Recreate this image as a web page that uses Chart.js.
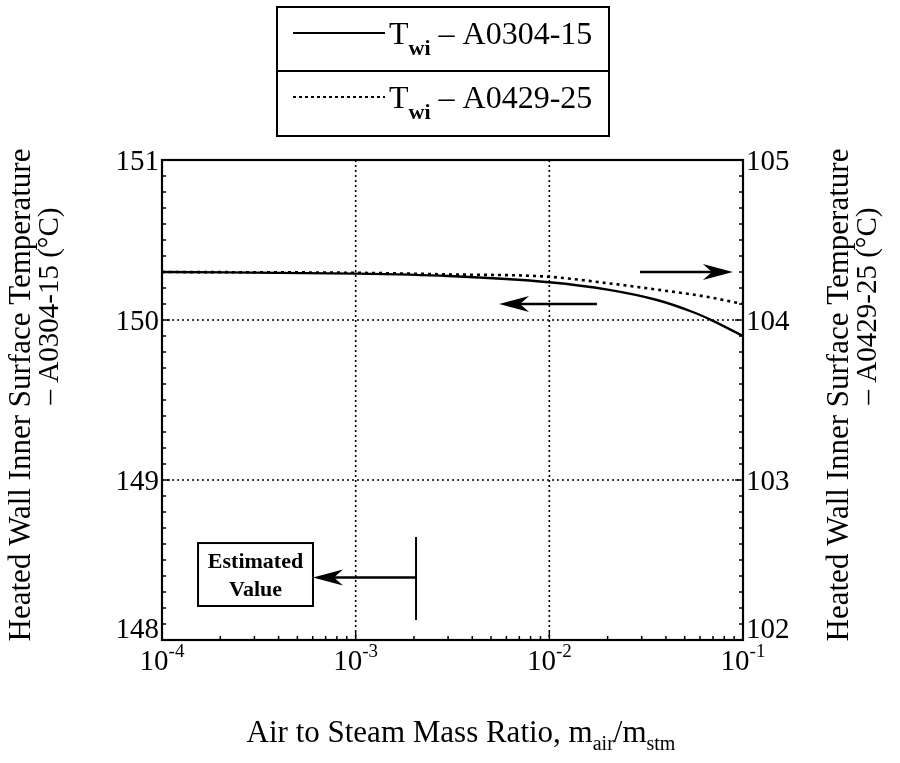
<!DOCTYPE html>
<html><head><meta charset="utf-8">
<script src="https://cdn.jsdelivr.net/npm/chart.js@4.4.1/dist/chart.umd.min.js"></script>
<style>html,body{margin:0;padding:0;background:#fff}canvas{display:block}</style>
</head><body>
<canvas id="c" width="900" height="763"></canvas>
<script>
// ---- data ----
const xSolid  = [1e-4, 1e-3, 3e-3, 1e-2, 2e-2, 3.6e-2, 5.5e-2, 7e-2, 1e-1];
const ySolid  = [150.30, 150.29, 150.275, 150.236, 150.19, 150.125, 150.05, 149.995, 149.90];
const xDotted = [1e-4, 1e-3, 3e-3, 1e-2, 2e-2, 3.6e-2, 6.5e-2, 1e-1];
const yDotted = [104.30, 104.295, 104.285, 104.27, 104.23, 104.19, 104.145, 104.10];
const seriesNames = ['A0304-15', 'A0429-25'];
const xTickValues = [1e-4, 1e-3, 1e-2, 1e-1];
const xTickExponents = ['-4', '-3', '-2', '-1'];
const yLeftTicks = [148, 149, 150, 151];
const yRightTicks = [102, 103, 104, 105];

const SERIF = '"Liberation Serif", "Times New Roman", serif';
function fnt(px, bold) { return (bold ? 'bold ' : '') + px + 'px ' + SERIF; }
function seg(ctx, x1, y1, x2, y2) { ctx.beginPath(); ctx.moveTo(x1, y1); ctx.lineTo(x2, y2); ctx.stroke(); }
function arrow(ctx, xTail, xTip, y) {
  const dir = xTip > xTail ? 1 : -1, L = 30, W = 8, N = 9;
  ctx.lineWidth = 2.5; ctx.setLineDash([]);
  seg(ctx, xTail, y, xTip - dir * (L - N), y);
  ctx.beginPath();
  ctx.moveTo(xTip, y);
  ctx.lineTo(xTip - dir * L, y - W);
  ctx.lineTo(xTip - dir * (L - N), y);
  ctx.lineTo(xTip - dir * L, y + W);
  ctx.closePath(); ctx.fill();
}
function richText(ctx, parts, x, y, align) {
  let total = 0;
  parts.forEach(p => { ctx.font = fnt(p[1], p[2]); total += ctx.measureText(p[0]).width; });
  let cx = align === 'center' ? x - total / 2 : x;
  ctx.textAlign = 'left'; ctx.textBaseline = 'alphabetic';
  parts.forEach(p => { ctx.font = fnt(p[1], p[2]); ctx.fillText(p[0], cx, y + (p[3] || 0)); cx += ctx.measureText(p[0]).width; });
}

const custom = {
  id: 'custom',
  beforeDatasetsDraw(chart) {
    const { ctx, chartArea: a, scales } = chart;
    ctx.save();
    ctx.strokeStyle = '#000'; ctx.lineWidth = 1.6; ctx.setLineDash([2, 3]);
    xTickValues.slice(1, -1).forEach(v => { const px = scales.x.getPixelForValue(v); seg(ctx, px, a.top, px, a.bottom); });
    yLeftTicks.slice(1, -1).forEach(v => { const py = scales.y.getPixelForValue(v); seg(ctx, a.left, py, a.right, py); });
    ctx.restore();
  },
  afterDraw(chart) {
    const { ctx, chartArea: a, scales } = chart;
    const X = scales.x, Y = scales.y, Y2 = scales.y2;
    ctx.save();
    ctx.strokeStyle = '#000'; ctx.fillStyle = '#000'; ctx.setLineDash([]);
    ctx.lineWidth = 2.2;
    ctx.strokeRect(a.left, a.top, a.right - a.left, a.bottom - a.top);
    ctx.lineWidth = 1.5;
    for (let i = 0; i <= 30; i++) {
      const v = yLeftTicks[0] + i * 0.1, py = Y.getPixelForValue(v);
      const len = i % 10 === 0 ? 8 : 4;
      seg(ctx, a.left - 1, py, a.left + len, py);
      const v2 = yRightTicks[0] + i * 0.1, py2 = Y2.getPixelForValue(v2);
      seg(ctx, a.right - len, py2, a.right + 1, py2);
    }
    xTickValues.slice(0, -1).forEach(d => {
      for (let m = 1; m <= 9; m++) {
        const px = X.getPixelForValue(d * m);
        seg(ctx, px, a.bottom - (m === 1 ? 8 : 4), px, a.bottom + 1);
      }
    });
    ctx.font = fnt(29); ctx.textBaseline = 'middle';
    yLeftTicks.forEach((v, i) => {
      ctx.textAlign = 'right';
      ctx.fillText(String(v), a.left - 3, Y.getPixelForValue(v) + (i === 0 ? -10 : 2));
    });
    yRightTicks.forEach((v, i) => {
      ctx.textAlign = 'left';
      ctx.fillText(String(v), a.right + 3, Y2.getPixelForValue(v) + (i === 0 ? -10 : 2));
    });
    xTickValues.forEach((v, i) => {
      const px = X.getPixelForValue(v);
      richText(ctx, [['10', 29, false, 0], [xTickExponents[i], 19, false, -13]], px, a.bottom + 30, 'center');
    });
    richText(ctx, [['Air to Steam Mass Ratio, m', 31, false, 0], ['air', 20, false, 8], ['/m', 31, false, 0], ['stm', 20, false, 8]], 461, 742, 'center');
    const titleL1 = 'Heated Wall Inner Surface Temperature';
    function vtext(txt, cx, cy, size) {
      ctx.save(); ctx.translate(cx, cy); ctx.rotate(-Math.PI / 2);
      ctx.font = fnt(size); ctx.textAlign = 'center'; ctx.textBaseline = 'middle';
      ctx.fillText(txt, 0, 0); ctx.restore();
    }
    vtext(titleL1, 22, 395, 31);
    vtext('\u2013 ' + seriesNames[0] + ' (\u00B0C)', 50, 306, 29);
    vtext(titleL1, 840, 395, 31);
    vtext('\u2013 ' + seriesNames[1] + ' (\u00B0C)', 868, 306, 29);
    // legend
    ctx.lineWidth = 2;
    ctx.strokeRect(277, 7, 332, 129);
    seg(ctx, 277, 71, 609, 71);
    const dashes = [[], [3, 3]];
    [0, 1].forEach(i => {
      const base = 44 + i * 64;
      ctx.setLineDash(dashes[i]); ctx.lineWidth = 2;
      seg(ctx, 293, base - 11, 385, base - 11);
      ctx.setLineDash([]);
      richText(ctx, [['T', 32, false, 0], ['wi', 22, true, 11], [' \u2013 ' + seriesNames[i], 32, false, 0]], 389, base, 'left');
    });
    // annotations
    arrow(ctx, X.getPixelForValue(0.0294), X.getPixelForValue(0.0887), Y.getPixelForValue(150.3));
    arrow(ctx, X.getPixelForValue(0.0176), X.getPixelForValue(0.0055), Y.getPixelForValue(150.1));
    const bx1 = X.getPixelForValue(1.535e-4), bx2 = X.getPixelForValue(6.02e-4);
    const by1 = Y.getPixelForValue(148.606), by2 = Y.getPixelForValue(148.2125);
    ctx.lineWidth = 2;
    ctx.strokeRect(bx1, by1, bx2 - bx1, by2 - by1);
    ctx.font = fnt(22, true); ctx.textAlign = 'center'; ctx.textBaseline = 'middle';
    ctx.fillText('Estimated', (bx1 + bx2) / 2, by1 + 19);
    ctx.fillText('Value', (bx1 + bx2) / 2, by1 + 47);
    const vx = X.getPixelForValue(2.05e-3);
    ctx.lineWidth = 2;
    seg(ctx, vx, Y.getPixelForValue(148.644), vx, Y.getPixelForValue(148.125));
    arrow(ctx, vx, bx2, Y.getPixelForValue(148.39));
    ctx.restore();
  }
};

const hiddenAxis = { ticks: { display: false }, grid: { display: false }, border: { display: false } };
new Chart(document.getElementById('c'), {
  type: 'line',
  data: {
    datasets: [
      { label: seriesNames[0], data: xSolid.map((x, i) => ({ x, y: ySolid[i] })), yAxisID: 'y',
        borderColor: '#000', borderWidth: 2.4, pointRadius: 0, tension: 0.3, cubicInterpolationMode: 'monotone', fill: false },
      { label: seriesNames[1], data: xDotted.map((x, i) => ({ x, y: yDotted[i] })), yAxisID: 'y2',
        borderColor: '#000', borderWidth: 2.6, borderDash: [3, 4], pointRadius: 0, tension: 0.3, cubicInterpolationMode: 'monotone', fill: false }
    ]
  },
  options: {
    responsive: false, animation: false, devicePixelRatio: 1,
    layout: { padding: { top: 160, left: 0, right: 0, bottom: 0 } },
    plugins: { legend: { display: false }, tooltip: { enabled: false } },
    scales: {
      x: Object.assign({ type: 'logarithmic', min: 1e-4, max: 1e-1, afterFit: s => { s.height = 123; } }, hiddenAxis),
      y: Object.assign({ type: 'linear', position: 'left', min: 148, max: 151, afterFit: s => { s.width = 162; } }, hiddenAxis),
      y2: Object.assign({ type: 'linear', position: 'right', min: 102, max: 105, afterFit: s => { s.width = 157; } }, hiddenAxis)
    }
  },
  plugins: [custom]
});
</script>
</body></html>
